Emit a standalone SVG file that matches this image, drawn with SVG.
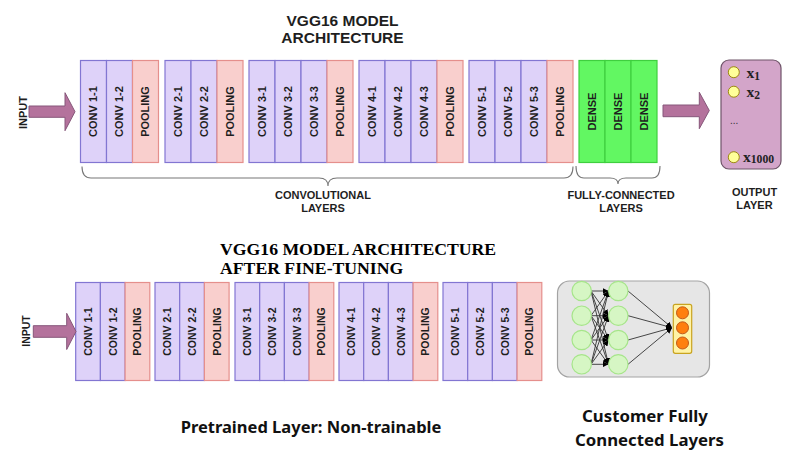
<svg xmlns="http://www.w3.org/2000/svg" width="805" height="461" viewBox="0 0 805 461">
<defs>
<style>
.bg{fill:#ffffff}
.conv{fill:#ded2f9;stroke:#8276d2;stroke-width:1.2}
.pool{fill:#f9cfcd;stroke:#e58f8c;stroke-width:1.2}
.dense{fill:#62f762;stroke:#3fcf3f;stroke-width:1.2}
.lt{font-family:"Liberation Sans",Arial,sans-serif;font-weight:bold;font-size:11px;fill:#1e1e1e;text-anchor:middle}
.lb{font-family:"Liberation Sans",Arial,sans-serif;font-weight:bold;font-size:10.5px;fill:#1e1e1e;text-anchor:middle}
.cap{font-family:"Liberation Sans",Arial,sans-serif;font-weight:bold;font-size:11px;fill:#1e1e1e;text-anchor:middle}
.title1{font-family:"Liberation Sans",Arial,sans-serif;font-weight:bold;font-size:15.5px;fill:#1e1e1e;text-anchor:middle}
.title2{font-family:"Liberation Serif","Times New Roman",serif;font-weight:bold;font-size:17.7px;fill:#000}
.noto{font-family:"Noto Sans","Open Sans",sans-serif;font-weight:bold;fill:#111}
.arrow{fill:#b4729c;stroke:#86577a;stroke-width:1}
.brace{fill:none;stroke:#777;stroke-width:1.1}
.ycirc{fill:#ffff99;stroke:#9c8a10;stroke-width:1}
.xt{font-family:"Liberation Serif","Times New Roman",serif;font-weight:bold;fill:#222}
.gcirc{fill:#d6f6c4;stroke:#a6e58a;stroke-width:1.2}
.ocirc{fill:#ff7f0e;stroke:#c0591a;stroke-width:1}
.nl{stroke:#333;stroke-width:0.9;fill:none}
</style>
<marker id="ah" viewBox="0 0 10 10" refX="10" refY="5" markerWidth="6" markerHeight="6" markerUnits="userSpaceOnUse" orient="auto"><path d="M0,0 L10,5 L0,10 z" fill="#000"/></marker>
</defs>
<rect class="bg" x="0" y="0" width="805" height="461"/>

<!-- Titles -->
<g id="title-top">
<text class="title1" x="342.5" y="26">VGG16 MODEL</text>
<text class="title1" x="342.5" y="42.5">ARCHITECTURE</text>
</g>
<g id="title-bottom">
<text class="title2" x="220" y="255">VGG16 MODEL ARCHITECTURE</text>
<text class="title2" x="220" y="273.5">AFTER FINE-TUNING</text>
</g>

<!-- Top row -->
<g id="input-top">
<text class="lt" font-size="11.5" transform="translate(26.5,112.5) rotate(-90)">INPUT</text>
</g>

<g id="top-block1">
<rect class="conv" x="80.5" y="60.5" width="26" height="102"/>
<rect class="conv" x="106.5" y="60.5" width="26" height="102"/>
<rect class="pool" x="132.5" y="60.5" width="26" height="102"/>
<text class="lt" transform="translate(97.4,111.5) rotate(-90)">CONV 1-1</text>
<text class="lt" transform="translate(123.4,111.5) rotate(-90)">CONV 1-2</text>
<text class="lt" transform="translate(149.4,111.5) rotate(-90)">POOLING</text>
</g>
<g id="top-block2">
<rect class="conv" x="165" y="60.5" width="26" height="102"/>
<rect class="conv" x="191" y="60.5" width="26" height="102"/>
<rect class="pool" x="217" y="60.5" width="26" height="102"/>
<text class="lt" transform="translate(181.9,111.5) rotate(-90)">CONV 2-1</text>
<text class="lt" transform="translate(207.9,111.5) rotate(-90)">CONV 2-2</text>
<text class="lt" transform="translate(233.9,111.5) rotate(-90)">POOLING</text>
</g>
<g id="top-block3">
<rect class="conv" x="249" y="60.5" width="26" height="102"/>
<rect class="conv" x="275" y="60.5" width="26" height="102"/>
<rect class="conv" x="301" y="60.5" width="26" height="102"/>
<rect class="pool" x="327" y="60.5" width="26" height="102"/>
<text class="lt" transform="translate(265.9,111.5) rotate(-90)">CONV 3-1</text>
<text class="lt" transform="translate(291.9,111.5) rotate(-90)">CONV 3-2</text>
<text class="lt" transform="translate(317.9,111.5) rotate(-90)">CONV 3-3</text>
<text class="lt" transform="translate(343.9,111.5) rotate(-90)">POOLING</text>
</g>
<g id="top-block4">
<rect class="conv" x="359" y="60.5" width="26" height="102"/>
<rect class="conv" x="385" y="60.5" width="26" height="102"/>
<rect class="conv" x="411" y="60.5" width="26" height="102"/>
<rect class="pool" x="437" y="60.5" width="26" height="102"/>
<text class="lt" transform="translate(375.9,111.5) rotate(-90)">CONV 4-1</text>
<text class="lt" transform="translate(401.9,111.5) rotate(-90)">CONV 4-2</text>
<text class="lt" transform="translate(427.9,111.5) rotate(-90)">CONV 4-3</text>
<text class="lt" transform="translate(453.9,111.5) rotate(-90)">POOLING</text>
</g>
<g id="top-block5">
<rect class="conv" x="469" y="60.5" width="26" height="102"/>
<rect class="conv" x="495" y="60.5" width="26" height="102"/>
<rect class="conv" x="521" y="60.5" width="26" height="102"/>
<rect class="pool" x="547" y="60.5" width="26" height="102"/>
<text class="lt" transform="translate(485.9,111.5) rotate(-90)">CONV 5-1</text>
<text class="lt" transform="translate(511.9,111.5) rotate(-90)">CONV 5-2</text>
<text class="lt" transform="translate(537.9,111.5) rotate(-90)">CONV 5-3</text>
<text class="lt" transform="translate(563.9,111.5) rotate(-90)">POOLING</text>
</g>
<g id="top-dense">
<rect class="dense" x="579" y="60.5" width="26" height="102"/>
<rect class="dense" x="605" y="60.5" width="26" height="102"/>
<rect class="dense" x="631" y="60.5" width="26" height="102"/>
<text class="lt" transform="translate(595.9,111.5) rotate(-90)">DENSE</text>
<text class="lt" transform="translate(621.9,111.5) rotate(-90)">DENSE</text>
<text class="lt" transform="translate(647.9,111.5) rotate(-90)">DENSE</text>
</g>

<g id="output-layer">
<rect x="721" y="60" width="60" height="109" rx="8" ry="8" fill="#d3a5c9" stroke="#6f5469" stroke-width="1.2"/>
<circle class="ycirc" cx="733.8" cy="72.2" r="5.5"/>
<circle class="ycirc" cx="733.8" cy="91.7" r="5.5"/>
<circle class="ycirc" cx="733.8" cy="157.2" r="5.5"/>
<text class="xt" x="746.5" y="78" font-size="15.5">x<tspan font-size="11.5" dy="2.3">1</tspan></text>
<text class="xt" x="746.5" y="97" font-size="15.5">x<tspan font-size="11.5" dy="2">2</tspan></text>
<text x="730" y="124" font-family="Liberation Sans,Arial,sans-serif" font-size="10" fill="#333">...</text>
<text class="xt" x="743" y="162" font-size="15.5">x<tspan font-size="11.7" dy="1">1000</tspan></text>
</g>

<g id="labels-top">
<text class="cap" x="323" y="198.5">CONVOLUTIONAL</text>
<text class="cap" x="323" y="212">LAYERS</text>
<text class="cap" x="621" y="198.5">FULLY-CONNECTED</text>
<text class="cap" x="621" y="211.5">LAYERS</text>
<text class="cap" x="754.5" y="196">OUTPUT</text>
<text class="cap" x="754.5" y="209">LAYER</text>
</g>

<!-- Bottom row -->
<g id="input-bottom">
<text class="lb" transform="translate(30,331) rotate(-90)">INPUT</text>
</g>

<g id="bot-block1">
<rect class="conv" x="75.7" y="282.5" width="24.7" height="98"/>
<rect class="conv" x="100.4" y="282.5" width="24.7" height="98"/>
<rect class="pool" x="125.1" y="282.5" width="24.7" height="98"/>
<text class="lb" transform="translate(91.8,331.5) rotate(-90)">CONV 1-1</text>
<text class="lb" transform="translate(116.5,331.5) rotate(-90)">CONV 1-2</text>
<text class="lb" transform="translate(141.2,331.5) rotate(-90)">POOLING</text>
</g>
<g id="bot-block2">
<rect class="conv" x="155" y="282.5" width="24.7" height="98"/>
<rect class="conv" x="179.7" y="282.5" width="24.7" height="98"/>
<rect class="pool" x="204.4" y="282.5" width="24.7" height="98"/>
<text class="lb" transform="translate(171.1,331.5) rotate(-90)">CONV 2-1</text>
<text class="lb" transform="translate(195.8,331.5) rotate(-90)">CONV 2-2</text>
<text class="lb" transform="translate(220.5,331.5) rotate(-90)">POOLING</text>
</g>
<g id="bot-block3">
<rect class="conv" x="235" y="282.5" width="24.7" height="98"/>
<rect class="conv" x="259.7" y="282.5" width="24.7" height="98"/>
<rect class="conv" x="284.4" y="282.5" width="24.7" height="98"/>
<rect class="pool" x="309.1" y="282.5" width="24.7" height="98"/>
<text class="lb" transform="translate(251.1,331.5) rotate(-90)">CONV 3-1</text>
<text class="lb" transform="translate(275.8,331.5) rotate(-90)">CONV 3-2</text>
<text class="lb" transform="translate(300.5,331.5) rotate(-90)">CONV 3-3</text>
<text class="lb" transform="translate(325.2,331.5) rotate(-90)">POOLING</text>
</g>
<g id="bot-block4">
<rect class="conv" x="339" y="282.5" width="24.7" height="98"/>
<rect class="conv" x="363.7" y="282.5" width="24.7" height="98"/>
<rect class="conv" x="388.4" y="282.5" width="24.7" height="98"/>
<rect class="pool" x="413.1" y="282.5" width="24.7" height="98"/>
<text class="lb" transform="translate(355.1,331.5) rotate(-90)">CONV 4-1</text>
<text class="lb" transform="translate(379.8,331.5) rotate(-90)">CONV 4-2</text>
<text class="lb" transform="translate(404.5,331.5) rotate(-90)">CONV 4-3</text>
<text class="lb" transform="translate(429.2,331.5) rotate(-90)">POOLING</text>
</g>
<g id="bot-block5">
<rect class="conv" x="443" y="282.5" width="24.7" height="98"/>
<rect class="conv" x="467.7" y="282.5" width="24.7" height="98"/>
<rect class="conv" x="492.4" y="282.5" width="24.7" height="98"/>
<rect class="pool" x="517.1" y="282.5" width="24.7" height="98"/>
<text class="lb" transform="translate(459.1,331.5) rotate(-90)">CONV 5-1</text>
<text class="lb" transform="translate(483.8,331.5) rotate(-90)">CONV 5-2</text>
<text class="lb" transform="translate(508.5,331.5) rotate(-90)">CONV 5-3</text>
<text class="lb" transform="translate(533.2,331.5) rotate(-90)">POOLING</text>
</g>

<g id="custom-fc">
<rect x="557.5" y="281" width="152" height="96" rx="12" ry="12" fill="#e6e6e6" stroke="#a3a3a3" stroke-width="1.2"/>
<g id="fc-connectors">
<line class="nl" x1="591" y1="291" x2="608.5" y2="291" marker-end="url(#ah)"/>
<line class="nl" x1="591" y1="291" x2="608.5" y2="315.7" marker-end="url(#ah)"/>
<line class="nl" x1="591" y1="291" x2="608.5" y2="340" marker-end="url(#ah)"/>
<line class="nl" x1="591" y1="291" x2="608.5" y2="364.3" marker-end="url(#ah)"/>
<line class="nl" x1="591" y1="315.7" x2="608.5" y2="291" marker-end="url(#ah)"/>
<line class="nl" x1="591" y1="315.7" x2="608.5" y2="315.7" marker-end="url(#ah)"/>
<line class="nl" x1="591" y1="315.7" x2="608.5" y2="340" marker-end="url(#ah)"/>
<line class="nl" x1="591" y1="315.7" x2="608.5" y2="364.3" marker-end="url(#ah)"/>
<line class="nl" x1="591" y1="340" x2="608.5" y2="291" marker-end="url(#ah)"/>
<line class="nl" x1="591" y1="340" x2="608.5" y2="315.7" marker-end="url(#ah)"/>
<line class="nl" x1="591" y1="340" x2="608.5" y2="340" marker-end="url(#ah)"/>
<line class="nl" x1="591" y1="340" x2="608.5" y2="364.3" marker-end="url(#ah)"/>
<line class="nl" x1="591" y1="364.3" x2="608.5" y2="291" marker-end="url(#ah)"/>
<line class="nl" x1="591" y1="364.3" x2="608.5" y2="315.7" marker-end="url(#ah)"/>
<line class="nl" x1="591" y1="364.3" x2="608.5" y2="340" marker-end="url(#ah)"/>
<line class="nl" x1="591" y1="364.3" x2="608.5" y2="364.3" marker-end="url(#ah)"/>
<line class="nl" x1="628" y1="291" x2="672" y2="327.7" marker-end="url(#ah)"/>
<line class="nl" x1="628" y1="315.7" x2="672" y2="327.7" marker-end="url(#ah)"/>
<line class="nl" x1="628" y1="340" x2="672" y2="327.7" marker-end="url(#ah)"/>
<line class="nl" x1="628" y1="364.3" x2="672" y2="327.7" marker-end="url(#ah)"/>
</g>
<circle class="gcirc" cx="581.7" cy="291" r="9.7"/>
<circle class="gcirc" cx="581.7" cy="315.7" r="9.7"/>
<circle class="gcirc" cx="581.7" cy="340" r="9.7"/>
<circle class="gcirc" cx="581.7" cy="364.3" r="9.7"/>
<circle class="gcirc" cx="618.3" cy="291" r="9.7"/>
<circle class="gcirc" cx="618.3" cy="315.7" r="9.7"/>
<circle class="gcirc" cx="618.3" cy="340" r="9.7"/>
<circle class="gcirc" cx="618.3" cy="364.3" r="9.7"/>
<rect x="673.3" y="304.3" width="18.4" height="49" rx="2" fill="#fff3a6" stroke="#c9a420" stroke-width="1.2"/>
<circle class="ocirc" cx="682.5" cy="312.8" r="6"/>
<circle class="ocirc" cx="682.5" cy="327.8" r="6"/>
<circle class="ocirc" cx="682.5" cy="343" r="6"/>
</g>

<g id="labels-bottom">
<text class="noto" x="311" y="433" font-size="16.5" text-anchor="middle">Pretrained Layer: Non-trainable</text>
<text class="noto" x="645" y="421.5" font-size="16.8" text-anchor="middle">Customer Fully</text>
<text class="noto" x="649.5" y="445.5" font-size="16.8" text-anchor="middle">Connected Layers</text>
</g>

<!-- Connectors -->
<g id="connectors">
<path class="arrow" d="M29,106 L65,106 L65,92.7 L75,111.7 L65,130.7 L65,117.3 L29,117.3 Z"/>
<path class="arrow" d="M663,105 L699.3,105 L699.3,92.3 L709.3,110.5 L699.3,128.7 L699.3,116.7 L663,116.7 Z"/>
<path class="arrow" d="M33.3,325.7 L66.7,325.7 L66.7,313.3 L76,331.5 L66.7,349.5 L66.7,337.3 L33.3,337.3 Z"/>
<path class="brace" d="M82,166.5 Q82,178 91,178 L319,178 Q328,178 328,186 Q328,178 337,178 L564,178 Q573,178 573,166.5"/>
<path class="brace" d="M576,166 Q576,178 584,178 L610,178 Q618,178 618,184 Q618,178 626,178 L652,178 Q660,178 660,166"/>
</g>
</svg>
